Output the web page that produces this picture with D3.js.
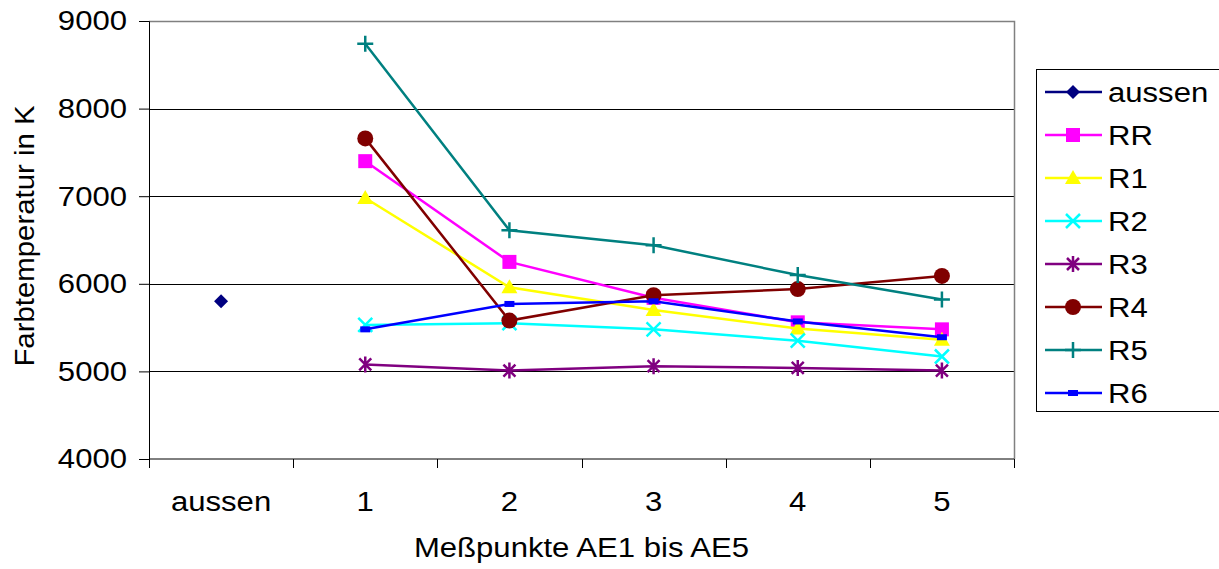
<!DOCTYPE html>
<html>
<head>
<meta charset="utf-8">
<script src="https://cdn.jsdelivr.net/npm/d3@7"></script>
<style>
  body { margin: 0; background: #fff; }
  text { font-family: "Liberation Sans", Arial, sans-serif; fill: #000; }
</style>
</head>
<body>
<div id="chart"></div>
<script>
// categories on x axis
const categories = ["aussen", "1", "2", "3", "4", "5"];
const yTicks = [4000, 5000, 6000, 7000, 8000, 9000];

// series values (null = no point)
const aussen = [5800, null, null, null, null, null];
const RR = [null, 7400, 6250, 5840, 5560, 5480];
const R1 = [null, 6980, 5960, 5700, 5490, 5360];
const R2 = [null, 5530, 5550, 5480, 5350, 5170];
const R3 = [null, 5080, 5010, 5060, 5040, 5010];
const R4 = [null, 7660, 5580, 5870, 5940, 6090];
const R5 = [null, 8740, 6610, 6440, 6100, 5820];
const R6 = [null, 5480, 5770, 5800, 5570, 5390];

const seriesNames = ["aussen", "RR", "R1", "R2", "R3", "R4", "R5", "R6"];
const seriesValues = [aussen, RR, R1, R2, R3, R4, R5, R6];
const seriesColors = ["#000080", "#ff00ff", "#ffff00", "#00ffff", "#800080", "#800000", "#008080", "#0000ff"];
const seriesMarkers = ["diamond", "square", "triangle", "x", "star", "circle", "plus", "bar"];

const W = 1219, H = 569;
const FS = 28;
const SX = 1.11; // text in the original is a bit wider than Liberation Sans
const margin = { left: 149, right: 1014, top: 21, bottom: 459 };

const svg = d3.select("#chart").append("svg")
  .attr("width", W).attr("height", H);

const x = d3.scaleBand().domain(categories).range([margin.left, margin.right]);
const y = d3.scaleLinear().domain([4000, 9000]).range([margin.bottom, margin.top]);

// wide text helper
function wideText(parent, tx, ty, str, anchor) {
  return parent.append("text")
    .attr("transform", `translate(${tx},${ty}) scale(${SX},1)`)
    .attr("text-anchor", anchor || "start")
    .attr("font-size", FS)
    .text(str);
}

// gridlines
svg.append("g").selectAll("line")
  .data(yTicks.filter(t => t > 4000 && t < 9000))
  .join("line")
  .attr("x1", margin.left).attr("x2", margin.right)
  .attr("y1", d => Math.round(y(d)) + 0.5).attr("y2", d => Math.round(y(d)) + 0.5)
  .attr("stroke", "#000").attr("stroke-width", 1);

// plot frame (top / right in grey)
svg.append("path")
  .attr("d", `M${margin.left},${margin.top + 0.5}H${margin.right + 0.5}V${margin.bottom}`)
  .attr("fill", "none").attr("stroke", "#808080").attr("stroke-width", 1.5);

// y axis
const yAxis = svg.append("g")
  .attr("transform", `translate(${margin.left},0)`)
  .call(d3.axisLeft(y).tickValues(yTicks).tickSize(10).tickPadding(12).tickFormat(d3.format("d")));
yAxis.selectAll("text")
  .attr("font-size", FS).attr("font-family", "Liberation Sans, Arial")
  .attr("x", -22 / SX)
  .attr("transform", `scale(${SX},1)`);
yAxis.selectAll("line, path").attr("stroke", "#000");

// x axis: ticks at band boundaries
const xAxis = svg.append("g")
  .attr("transform", `translate(0,${margin.bottom})`);
xAxis.append("line")
  .attr("x1", margin.left).attr("x2", margin.right)
  .attr("stroke", "#000");
const bounds = categories.map(c => x(c)).concat([margin.right]);
xAxis.selectAll("line.tk").data(bounds).join("line")
  .attr("class", "tk")
  .attr("x1", d => Math.round(d) + 0.5).attr("x2", d => Math.round(d) + 0.5)
  .attr("y1", 0).attr("y2", 9).attr("stroke", "#000");
categories.forEach(c => wideText(xAxis, x(c) + x.bandwidth() / 2, 52, c, "middle"));

// axis titles
wideText(svg, (margin.left + margin.right) / 2, 557, "Meßpunkte AE1 bis AE5", "middle");
svg.append("text")
  .attr("transform", `translate(34,236) rotate(-90) scale(1.05,1)`)
  .attr("text-anchor", "middle")
  .attr("font-size", FS)
  .text("Farbtemperatur in K");

// marker drawing
function drawMarker(g, type, color) {
  switch (type) {
    case "diamond":
      g.append("path").attr("d", "M0,-7L7,0L0,7L-7,0Z").attr("fill", color);
      break;
    case "square":
      g.append("rect").attr("x", -7).attr("y", -7).attr("width", 14).attr("height", 14).attr("fill", color);
      break;
    case "triangle":
      g.append("path").attr("d", "M0,-8L8,6L-8,6Z").attr("fill", color);
      break;
    case "x":
      g.append("path").attr("d", "M-7,-7L7,7M-7,7L7,-7").attr("stroke", color).attr("stroke-width", 2.5);
      break;
    case "star":
      g.append("path").attr("d", "M-6,-6L6,6M-6,6L6,-6M0,-8V8").attr("stroke", color).attr("stroke-width", 2.5);
      break;
    case "circle":
      g.append("circle").attr("r", 8).attr("fill", color);
      break;
    case "plus":
      g.append("path").attr("d", "M-8,0H8M0,-8V8").attr("stroke", color).attr("stroke-width", 2.5);
      break;
    case "bar":
      g.append("rect").attr("x", -5).attr("y", -3).attr("width", 10).attr("height", 6).attr("fill", color);
      break;
  }
}

const line = d3.line()
  .defined(d => d.v != null)
  .x(d => x(d.c) + x.bandwidth() / 2)
  .y(d => y(d.v));

seriesValues.forEach((vals, i) => {
  const pts = vals.map((v, j) => ({ c: categories[j], v: v }));
  svg.append("path")
    .datum(pts)
    .attr("d", line)
    .attr("fill", "none")
    .attr("stroke", seriesColors[i])
    .attr("stroke-width", 2.5);
  pts.filter(p => p.v != null).forEach(p => {
    const g = svg.append("g")
      .attr("transform", `translate(${x(p.c) + x.bandwidth() / 2},${y(p.v)})`);
    drawMarker(g, seriesMarkers[i], seriesColors[i]);
  });
});

// legend
const legend = svg.append("g");
legend.append("rect")
  .attr("x", 1036.5).attr("y", 69.5).attr("width", 190).attr("height", 342)
  .attr("fill", "#fff").attr("stroke", "#000").attr("stroke-width", 1);
seriesNames.forEach((name, i) => {
  const ly = 92 + i * 43;
  const g = legend.append("g");
  g.append("line").attr("x1", 1045).attr("x2", 1102).attr("y1", ly).attr("y2", ly)
    .attr("stroke", seriesColors[i]).attr("stroke-width", 2.5);
  drawMarker(g.append("g").attr("transform", `translate(1073,${ly})`), seriesMarkers[i], seriesColors[i]);
  wideText(g, 1108, ly + 10, name);
});
</script>
</body>
</html>
